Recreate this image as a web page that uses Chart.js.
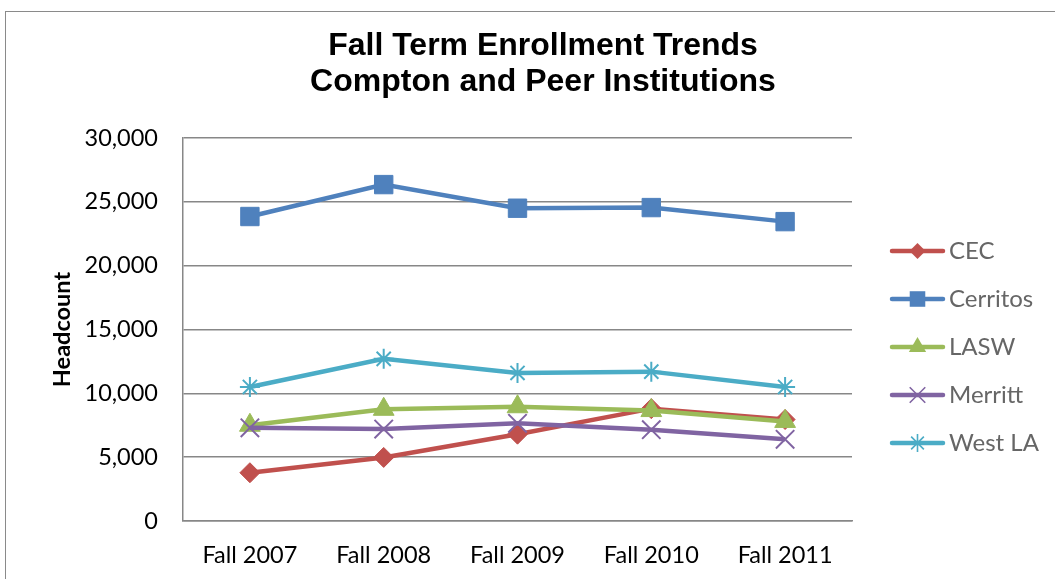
<!DOCTYPE html>
<html>
<head>
<meta charset="utf-8">
<title>Fall Term Enrollment Trends</title>
<script src="https://cdn.jsdelivr.net/npm/chart.js@4.4.1/dist/chart.umd.min.js"></script>
<style>
  html, body { margin: 0; padding: 0; background: #fff; }
  #wrap { position: relative; width: 1055px; height: 579px; overflow: hidden; }
  #frame { position: absolute; left: 5px; top: 11px; width: 2000px; height: 2000px;
           border-left: 1px solid #8a8a8a; border-top: 1px solid #8a8a8a; pointer-events: none; }
  canvas { position: absolute; left: 0; top: 0; }
</style>
</head>
<body>
<div id="wrap">
  <canvas id="enrollChart" width="1055" height="579"></canvas>
  <div id="frame"></div>
</div>
<script>
const terms = ["Fall 2007", "Fall 2008", "Fall 2009", "Fall 2010", "Fall 2011"];
const cec = [3780, 4980, 6800, 8800, 7950];
const cerritos = [23850, 26350, 24500, 24550, 23450];
const lasw = [7500, 8750, 8950, 8650, 7800];
const merritt = [7300, 7200, 7650, 7150, 6400];
const westLA = [10500, 12700, 11600, 11700, 10500];
const yTicks = [0, 5000, 10000, 15000, 20000, 25000, 30000];

const seriesNames = ["CEC", "Cerritos", "LASW", "Merritt", "West LA"];
const seriesColors = ["#C0504D", "#4F81BD", "#9BBB59", "#8064A2", "#4BACC6"];
const seriesMarkers = ["rectRot", "rect", "triangle", "crossRot", "star"];
const markerSizes = [10, 13, 12, 13, 10];

const labelFont = "Lato, 'Open Sans', sans-serif";

// small glyph for the legend: line with the marker in the middle
function drawMarker(g, style, x, y, r) {
  g.beginPath();
  if (style === "rectRot") {
    g.moveTo(x, y - r); g.lineTo(x + r, y); g.lineTo(x, y + r); g.lineTo(x - r, y); g.closePath(); g.fill();
  } else if (style === "rect") {
    const s = r * Math.SQRT1_2;
    g.rect(x - s, y - s, 2 * s, 2 * s); g.fill();
  } else if (style === "triangle") {
    g.moveTo(x, y - r);
    g.lineTo(x + Math.sin(2 * Math.PI / 3) * r, y + r / 2);
    g.lineTo(x - Math.sin(2 * Math.PI / 3) * r, y + r / 2);
    g.closePath(); g.fill();
  } else {
    const d = r * Math.SQRT1_2;
    g.lineWidth = 1.6; g.lineCap = "butt";
    g.moveTo(x - d, y - d); g.lineTo(x + d, y + d);
    g.moveTo(x - d, y + d); g.lineTo(x + d, y - d);
    if (style === "star") { g.moveTo(x, y - r); g.lineTo(x, y + r); }
    g.stroke();
  }
}

function legendGlyph(i) {
  const c = document.createElement("canvas");
  c.width = 79; c.height = 24;
  const g = c.getContext("2d");
  g.strokeStyle = seriesColors[i];
  g.fillStyle = seriesColors[i];
  g.lineWidth = 4.5;
  g.lineCap = "round";
  g.beginPath(); g.moveTo(25, 12); g.lineTo(76, 12); g.stroke();
  const lr = [8, 11, 10, 11, 9][i];
  drawMarker(g, seriesMarkers[i], 50.5, 12, lr);
  return c;
}

const seriesData = [cec, cerritos, lasw, merritt, westLA];
const glyphs = seriesNames.map((n, i) => legendGlyph(i));

const datasets = seriesNames.map((name, i) => ({
  label: name,
  data: seriesData[i],
  borderColor: seriesColors[i],
  backgroundColor: seriesColors[i],
  borderWidth: 4.5,
  pointStyle: seriesMarkers[i],
  pointRadius: markerSizes[i],
  pointHoverRadius: markerSizes[i],
  pointBorderWidth: (i >= 3) ? 2 : 1,
  pointBackgroundColor: seriesColors[i],
  pointBorderColor: seriesColors[i],
  tension: 0,
  fill: false,
  order: seriesNames.length - i
}));

const legendWidthPlugin = {
  id: "legendWidth",
  afterInit(chart) {
    const legend = chart.legend;
    const fit = legend.fit;
    legend.fit = function () { fit.call(this); this.width = 203; };
  }
};

const ctx = document.getElementById("enrollChart").getContext("2d");
new Chart(ctx, {
  type: "line",
  data: { labels: terms, datasets: datasets },
  options: {
    responsive: false,
    animation: false,
    layout: { padding: { left: 31, right: 0, top: 0, bottom: 0 } },
    plugins: {
      title: {
        display: true,
        text: ["Fall Term Enrollment Trends", "Compton and Peer Institutions"],
        color: "#000",
        font: { family: "'Liberation Sans', Arial, sans-serif", size: 32, weight: "bold", lineHeight: 1.1 },
        padding: { top: 29, bottom: 38.6 }
      },
      legend: {
        position: "right",
        fullSize: false,
        align: "center",
        title: { display: true, text: " ", font: { size: 1, lineHeight: 1 }, padding: { top: 17, bottom: 17 } },
        labels: {
          usePointStyle: true,
          pointStyleWidth: 61,
          padding: 24,
          color: "#000",
          font: { family: labelFont, size: 24 },
          generateLabels: (chart) => chart.data.datasets.map((ds, i) => ({
            text: ds.label,
            pointStyle: glyphs[i],
            fillStyle: seriesColors[i],
            strokeStyle: seriesColors[i],
            lineWidth: 0,
            hidden: false,
            datasetIndex: i
          }))
        }
      },
      tooltip: { enabled: false }
    },
    scales: {
      x: {
        offset: true,
        grid: { display: false, drawTicks: false },
        border: { display: true, color: "#878787", width: 1.5 },
        ticks: { color: "#000", padding: 20, font: { family: labelFont, size: 23.5 } },
        afterFit: (scale) => { scale.height = 58; }
      },
      y: {
        min: 0,
        max: 30000,
        afterBuildTicks: (scale) => { scale.ticks = yTicks.map(v => ({ value: v })); },
        grid: { color: "#878787", lineWidth: 1.5, drawTicks: false },
        border: { display: true, color: "#878787", width: 1.5 },
        ticks: {
          color: "#000",
          padding: 25,
          font: { family: labelFont, size: 23.5 },
          callback: (v) => v.toLocaleString("en-US")
        },
        title: {
          display: true,
          text: "Headcount",
          color: "#000",
          font: { family: labelFont, size: 23.5, weight: "bold" },
          padding: 17
        },
        afterFit: (scale) => { scale.width = 152; }
      }
    }
  },
  plugins: [legendWidthPlugin]
});
</script>
</body>
</html>
